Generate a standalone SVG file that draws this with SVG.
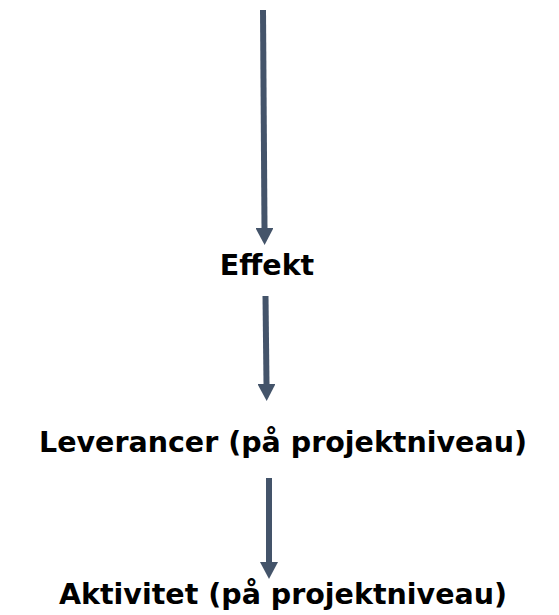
<svg xmlns="http://www.w3.org/2000/svg" width="559" height="615" viewBox="0 0 559 615">
  <style>
    .lbl { font-family: "DejaVu Sans", Verdana, sans-serif; font-weight: bold; font-size: 28.5px; fill: #000000; text-anchor: middle; }
    .arr { stroke: #44546A; stroke-width: 6; fill: none; marker-end: url(#head); }
  </style>
  <defs>
    <marker id="head" viewBox="0 0 17 18" markerWidth="17" markerHeight="18" markerUnits="userSpaceOnUse" refX="0" refY="9" orient="auto">
      <path d="M0,0 L17,9 L0,18 Z" fill="#44546A"/>
    </marker>
  </defs>
  <rect width="559" height="615" fill="#ffffff"/>
  <g id="connectors">
    <line class="arr" x1="263" y1="10" x2="264.5" y2="228"/>
    <line class="arr" x1="265.5" y1="296" x2="266.5" y2="384"/>
    <line class="arr" x1="269" y1="478" x2="269" y2="562"/>
  </g>
  <g id="node-effekt">
    <text class="lbl" x="267" y="275">Effekt</text>
  </g>
  <g id="node-leverancer">
    <text class="lbl" x="283" y="452">Leverancer (på projektniveau)</text>
  </g>
  <g id="node-aktivitet">
    <text class="lbl" x="283" y="604">Aktivitet (på projektniveau)</text>
  </g>
</svg>
